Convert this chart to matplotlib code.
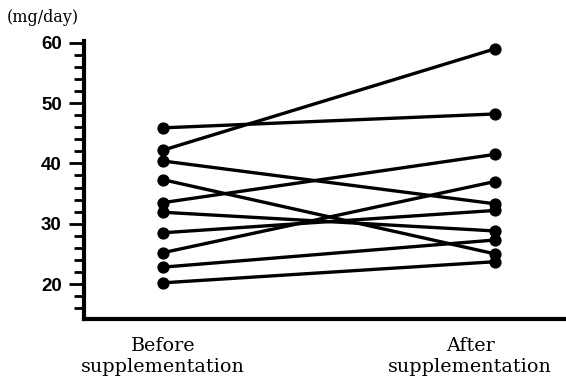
import matplotlib.pyplot as plt
from matplotlib.ticker import MultipleLocator

# Values per subject (mg/day)
before = [45.9, 42.2, 40.4, 37.3, 33.5, 31.9, 28.5, 25.2, 22.8, 20.2]
after = [48.2, 59.0, 33.3, 25.0, 41.5, 28.8, 32.2, 37.0, 27.3, 23.7]
x_labels = ["Before\nsupplementation", "After\nsupplementation"]
y_ticks = [20, 30, 40, 50, 60]

fig = plt.figure(figsize=(5.66, 3.80), dpi=100)
ax = fig.add_axes([84 / 566, 61 / 380, 1 - 84 / 566, 278 / 380])

for b, a in zip(before, after):
    ax.plot([0, 1], [b, a], color='black', linewidth=2.4, marker='o',
            markersize=7.8, solid_capstyle='round', clip_on=False)

ax.set_xlim(-0.238, 1.214)
ax.set_ylim(14.2, 60.3)

for s in ['top', 'right']:
    ax.spines[s].set_visible(False)
for s in ['left', 'bottom']:
    ax.spines[s].set_linewidth(3)

ax.set_yticks(y_ticks)
ax.yaxis.set_minor_locator(MultipleLocator(2))
ax.tick_params(axis='y', which='major', length=11, width=2, direction='out', pad=5)
ax.tick_params(axis='y', which='minor', length=7, width=2, direction='out')
for lbl in ax.get_yticklabels():
    lbl.set_fontfamily('Liberation Sans')
    lbl.set_fontweight('bold')
    lbl.set_fontsize(13.5)

# category labels under the axis; the right one sits a little left of its points
ax.set_xticks([])
label_pos = [0.0, 0.925]
for xp, txt in zip(label_pos, x_labels):
    ax.text(xp, -0.065, txt, transform=ax.get_xaxis_transform(), ha='center',
            va='top', fontsize=13.8, family='DejaVu Serif', linespacing=1.2)

fig.text(7 / 566, 1 - 18 / 380, "(mg/day)", fontsize=11.5, family='DejaVu Serif',
         va='center', ha='left')

fig.savefig('out.png', dpi=100)
